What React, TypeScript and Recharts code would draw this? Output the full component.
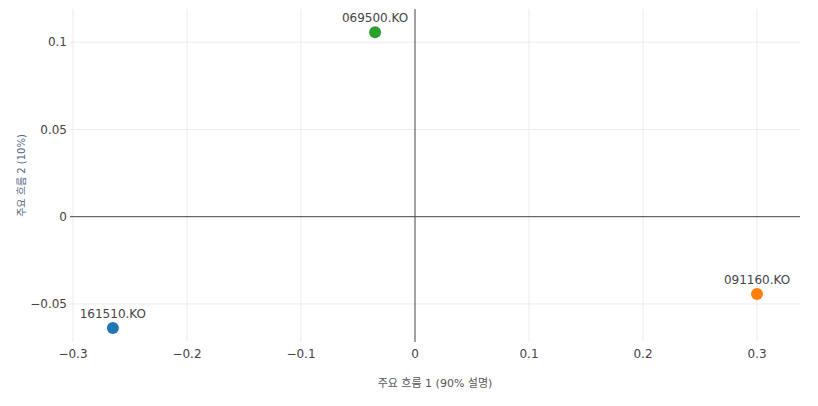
import {
  ReferenceLine,
  Scatter,
  ScatterChart,
  XAxis,
  YAxis,
} from 'recharts';

const tickers = ['161510.KO', '069500.KO', '091160.KO'];
const pc1 = [-0.265, -0.035, 0.3];
const pc2 = [-0.0638, 0.1057, -0.0443];
const colors = ['#1f77b4', '#2ca02c', '#ff7f0e'];

const xTicks = [-0.3, -0.2, -0.1, 0, 0.1, 0.2, 0.3];
const yTicks = [-0.05, 0, 0.05, 0.1];

const FONT = '"DejaVu Sans", "Noto Sans CJK KR", sans-serif';

const fmt = (v: number) => (v < 0 ? '\u2212' + String(Math.abs(v)) : String(v));

function Dot(props: any) {
  const { cx, cy, fill, payload } = props;
  return (
    <g>
      <circle cx={cx} cy={cy} r={6} fill={fill} />
      <text
        x={cx}
        y={cy - 14}
        textAnchor="middle"
        dominantBaseline="middle"
        fontSize={12}
        fill="#444"
        fontFamily={FONT}
      >
        {payload.name}
      </text>
    </g>
  );
}

export default function App() {
  const series = tickers.map((name, i) => ({
    name,
    color: colors[i],
    data: [{ x: pc1[i], y: pc2[i], name }],
  }));

  return (
    <div style={{ position: 'absolute', left: 0, top: 0, width: 818, height: 406, background: '#fff' }}>
      <ScatterChart
        width={818}
        height={406}
        margin={{ top: 9, right: 18, bottom: 10, left: 8 }}
        style={{ fontFamily: FONT }}
      >
        {xTicks.filter((t) => t !== 0).map((t) => (
          <ReferenceLine key={'gx' + t} x={t} stroke="#ebebeb" strokeWidth={1} />
        ))}
        {yTicks.filter((t) => t !== 0).map((t) => (
          <ReferenceLine key={'gy' + t} y={t} stroke="#ebebeb" strokeWidth={1} />
        ))}
        <XAxis
          type="number"
          dataKey="x"
          domain={[-0.3026, 0.3377]}
          ticks={xTicks}
          tickFormatter={fmt}
          axisLine={false}
          tickLine={false}
          tickSize={0}
          tickMargin={7}
          height={54}
          tick={{ fontSize: 12, fill: '#444' }}
          allowDataOverflow
          label={{
            value: '주요 흐름 1 (90% 설명)',
            position: 'insideBottom',
            offset: 9,
            fontSize: 11,
            fill: '#555',
          }}
        />
        <YAxis
          type="number"
          dataKey="y"
          domain={[-0.0718, 0.119]}
          ticks={yTicks}
          tickFormatter={fmt}
          axisLine={false}
          tickLine={false}
          tickSize={0}
          tickMargin={3}
          width={62}
          tick={{ fontSize: 12, fill: '#444' }}
          allowDataOverflow
          label={{
            value: '주요 흐름 2 (10%)',
            angle: -90,
            position: 'insideLeft',
            offset: 13,
            fontSize: 10,
            fill: '#506784',
            style: { textAnchor: 'middle' },
          }}
        />
        <ReferenceLine x={0} stroke="#444" strokeWidth={1} />
        <ReferenceLine y={0} stroke="#444" strokeWidth={1} />
        {series.map((s) => (
          <Scatter
            key={s.name}
            name={s.name}
            data={s.data}
            fill={s.color}
            shape={<Dot />}
            isAnimationActive={false}
          />
        ))}
      </ScatterChart>
    </div>
  );
}
